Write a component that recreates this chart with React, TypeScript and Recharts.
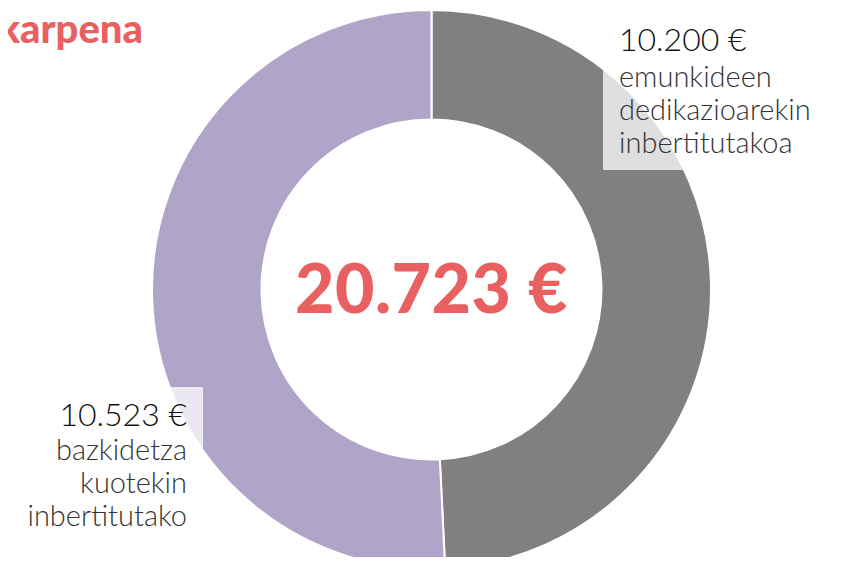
import React from "react";
import { PieChart, Pie, Cell } from "recharts";

const categories = ["emunkideen dedikazioarekin inbertitutakoa", "bazkidetza kuotekin inbertitutako"];
const values = [10200, 10523];
const descLines = [
  ["emunkideen", "dedikazioarekin", "inbertitutakoa"],
  ["bazkidetza", "kuotekin", "inbertitutako"],
];
const colors = ["#808080", "#b0a5c8"];
const titleText = "karpena";

const fmt = (n: number) => {
  const s = Math.round(n).toString();
  return s.replace(/\B(?=(\d{3})+(?!\d))/g, ".") + " €";
};

const data = categories.map((name, i) => ({ name, value: values[i], lines: descLines[i] }));
const total = values.reduce((a, b) => a + b, 0);

const FONT = "Lato, 'Noto Sans', sans-serif";

const renderLabel = (props: any) => {
  const i = props.index;
  const v = values[i];
  const lines = descLines[i];
  if (i === 0) {
    return (
      <g key="lab0">
        <rect x={603} y={0} width={260} height={170} fill="#ffffff" fillOpacity={0.75} />
        <text x={619} y={51} fontFamily={FONT} fontWeight={300} fontSize={32} fill="#111111">
          {fmt(v)}
        </text>
        {lines.map((t, k) => (
          <text key={t} x={619} y={87 + k * 33} fontFamily={FONT} fontWeight={300} fontSize={29} fill="#333333">
            {t}
          </text>
        ))}
      </g>
    );
  }
  return (
    <g key="lab1">
      <rect x={-10} y={387} width={213} height={160} fill="#ffffff" fillOpacity={0.75} />
      <text x={187} y={426} textAnchor="end" fontFamily={FONT} fontWeight={300} fontSize={32} fill="#111111">
        {fmt(v)}
      </text>
      {lines.map((t, k) => (
        <text key={t} x={187} y={460 + k * 33} textAnchor="end" fontFamily={FONT} fontWeight={300} fontSize={29} fill="#333333">
          {t}
        </text>
      ))}
    </g>
  );
};

export default function App() {
  return (
    <div style={{ margin: -8, width: 843, height: 565, overflow: "hidden", background: "#fff" }}>
      <PieChart width={843} height={565} margin={{ top: 0, right: 0, bottom: 0, left: 0 }}>
        <text x={143} y={43} textAnchor="end" fontFamily={FONT} fontWeight={900} fontSize={40} fill="#e8605f">
          {titleText}
        </text>
        <text x={431.5} y={289.5} dy={23} textAnchor="middle" fontFamily={FONT} fontWeight={900} fontSize={68} letterSpacing={0.5} fill="#e8605f">
          {fmt(total)}
        </text>
        <Pie
          data={data}
          dataKey="value"
          nameKey="name"
          cx={431.5}
          cy={289.5}
          innerRadius={170}
          outerRadius={279.5}
          startAngle={90}
          endAngle={-270}
          stroke="#ffffff"
          strokeWidth={2}
          label={renderLabel}
          labelLine={false}
          isAnimationActive={false}
        >
          {data.map((d, i) => (
            <Cell key={d.name} fill={colors[i]} />
          ))}
        </Pie>
      </PieChart>
    </div>
  );
}
